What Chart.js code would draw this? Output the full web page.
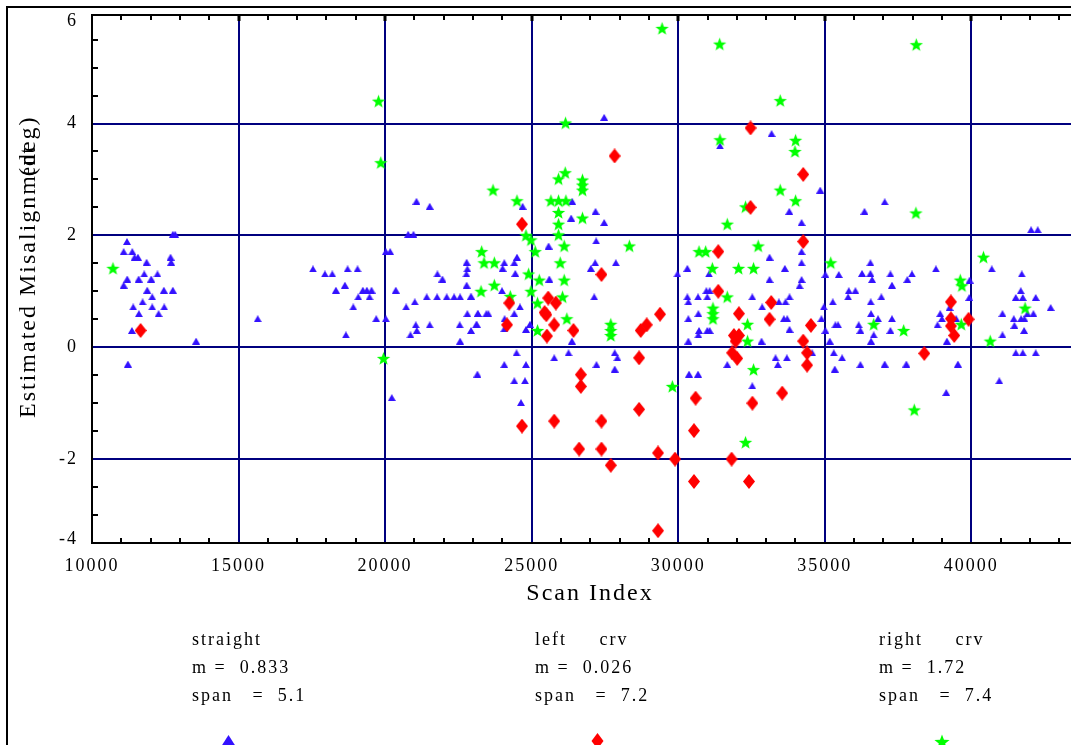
<!DOCTYPE html>
<html>
<head>
<meta charset="utf-8">
<script src="https://cdn.jsdelivr.net/npm/chart.js@4.4.0/dist/chart.umd.min.js"></script>
<style>
  html, body { margin: 0; padding: 0; background: #ffffff; overflow: hidden; }
  #wrap { width: 1071px; height: 745px; position: relative; }
</style>
</head>
<body>
<div id="wrap"><canvas id="chart" width="1071" height="745"></canvas></div>
<script>
// ---- straight track scans (blue triangles) ----
const straightScan = [
  11192, 11079, 11374, 11454, 11567, 11863, 12680, 12700, 12759, 12837,
  11202, 11591, 12020, 11782, 12234, 11079, 11884, 12452, 12759, 12054,
  11726, 11407, 12054, 12463, 11601, 12272, 11362, 13552, 11226, 15654,
  17538, 17947, 18197, 18720, 19060, 20024, 20173, 21070, 21522, 20787,
  20967, 21785, 21955, 22783, 22806, 22773, 18321, 18628, 19241, 19377,
  19537, 19084, 19469, 18913, 19696, 20024, 18662, 20365, 21012, 20717,
  21420, 21774, 22101, 22353, 22557, 22919, 22783, 22806, 23170, 23453,
  21046, 21080, 21522, 20865, 22545, 23114, 22932, 22557, 23148, 20228,
  27473, 33186, 31424, 34844, 36354, 24691, 26382, 27178, 26348, 27473,
  33788, 34208, 27201, 25577, 24498, 24066, 24407, 24009, 24441, 27166,
  27871, 27019, 25600, 23987, 24601, 24407, 23522, 24077, 24805, 27133,
  26372, 24483, 24805, 24066, 24407, 24771, 24635, 25770, 26257, 27211,
  27834, 27925, 27834, 29971, 30312, 31049, 33638, 33115, 34208, 34208,
  33115, 34208, 34140, 30960, 31072, 30312, 30675, 30992, 30346, 32527,
  33797, 33433, 33661, 32863, 30687, 30346, 33604, 33718, 30709, 30992,
  31072, 30687, 30346, 32842, 33797, 35022, 35477, 35818, 36045, 35795,
  34965, 35272, 34885, 35363, 35454, 35022, 35170, 36158, 36215, 36556,
  36613, 36271, 36556, 35306, 35590, 35340, 36215, 33320, 33706, 33399,
  31674, 30368, 30675, 32527, 34571, 22942, 23158, 23124, 24066, 24941,
  37044, 42038, 42264, 37238, 37974, 38791, 37816, 37293, 40698, 41720,
  39940, 36930, 36567, 39929, 41686, 41516, 41754, 42197, 42707, 41061,
  41913, 42117, 41447, 41697, 41810, 41470, 41800, 41061, 41516, 41754,
  42197, 40953, 36577, 36816, 37293, 37238, 36669, 36577, 38847, 38939,
  38995, 39485, 39166, 37044, 37782, 39542, 39143, 39256
];
const straightMis = [
  1.89, 1.71, 1.71, 1.61, 1.61, 1.52, 1.61, 1.52, 2.02, 2.02,
  1.22, 1.22, 1.22, 1.31, 1.31, 1.11, 1.02, 1.02, 1.02, 0.90,
  0.81, 0.72, 0.72, 0.72, 0.60, 0.60, 0.30, 0.11, -0.30, 0.51,
  1.40, 1.31, 1.31, 1.40, 1.40, 1.71, 1.71, 2.61, 2.52, 2.02,
  2.02, 1.31, 1.22, 1.52, 1.40, 1.31, 1.02, 1.11, 1.02, 1.02,
  1.02, 0.90, 0.90, 0.72, 0.51, 0.51, 0.22, 1.02, 0.81, 0.72,
  0.90, 0.90, 0.90, 0.90, 0.90, 0.90, 1.11, 0.60, 0.60, 0.60,
  0.40, 0.30, 0.40, 0.22, 0.40, 0.40, 0.30, 0.11, -0.48, -0.90,
  4.11, 3.82, 3.60, 2.81, 2.43, 2.52, 2.61, 2.43, 2.31, 2.23,
  2.43, 2.23, 1.90, 1.81, 1.61, 1.51, 1.51, 1.41, 1.32, 1.51,
  1.51, 1.41, 1.22, 1.01, 0.72, 0.60, 0.60, 0.51, 0.32, 0.90,
  0.11, -0.10, -0.31, -0.31, -0.60, -0.60, -0.99, -0.19, -0.10, -0.31,
  -0.10, -0.19, -0.39, 1.31, 1.41, 1.31, 1.41, 1.61, 1.71, 1.51,
  1.21, 1.21, 1.10, 1.01, 1.01, 0.90, 0.90, 0.90, 0.81, 0.90,
  0.90, 0.81, 0.81, 0.72, 0.60, 0.51, 0.51, 0.51, 0.30, 0.30,
  0.30, 0.22, 0.11, 0.11, 0.32, 1.30, 1.30, 1.01, 1.01, 0.90,
  0.72, 0.81, 0.51, 0.40, 0.40, 0.30, 0.11, 0.40, 0.30, 1.51,
  1.21, 1.32, 1.32, -0.10, -0.19, -0.39, -0.31, -0.19, -0.19, -0.31,
  -0.31, -0.48, -0.48, -0.69, -0.10, 0.90, 0.60, 0.41, 0.33, 0.41,
  2.60, 2.10, 2.10, 1.31, 1.31, 1.40, 1.21, 1.11, 1.40, 1.31,
  1.20, 0.90, 0.81, 0.89, 1.01, 0.89, 0.89, 0.89, 0.71, 0.60,
  0.60, 0.60, 0.51, 0.51, 0.51, 0.39, 0.30, 0.22, -0.10, -0.10,
  -0.10, -0.60, 0.60, 0.51, 0.51, 0.30, 0.22, 0.11, 0.40, 0.60,
  0.51, 0.51, 0.11, -0.30, -0.30, -0.30, -0.81, 0.71
];

// ---- left curve scans (red diamonds) ----
const leftScan = [
  11658, 32467, 27830, 34265, 32467, 24668, 34265, 31367, 27382, 31367,
  24236, 25565, 25824, 25440, 25500, 24159, 25770, 25520, 26427, 29380,
  28720, 28924, 32070, 33172, 33115, 34527, 31900, 32070, 31957, 34265,
  31840, 32010, 34397, 34397, 28664, 26677, 26677, 30593, 32530, 33547,
  28664, 24668, 25770, 27382, 30538, 26620, 27382, 29312, 29891, 31820,
  27700, 30538, 32413, 29312, 39302, 39302, 39302, 39416, 39906, 38394
];
const leftMis = [
  0.30, 3.92, 3.42, 3.09, 2.50, 2.20, 1.89, 1.71, 1.30, 1.00,
  0.79, 0.88, 0.79, 0.62, 0.58, 0.40, 0.40, 0.20, 0.30, 0.59,
  0.30, 0.40, 0.60, 0.80, 0.50, 0.39, 0.21, 0.21, 0.11, 0.11,
  -0.10, -0.20, -0.10, -0.32, -0.19, -0.49, -0.70, -0.91, -1.00, -0.82,
  -1.11, -1.41, -1.32, -1.32, -1.49, -1.82, -1.82, -1.89, -2.00, -2.00,
  -2.11, -2.40, -2.40, -3.28, 0.81, 0.51, 0.38, 0.21, 0.50, -0.11
];

// ---- right curve scans (green stars) ----
const rightScan = [
  10715, 19776, 19853, 19946, 23294, 23374, 29449, 31413, 33479, 26155,
  31424, 34005, 33982, 23681, 24498, 26144, 25916, 26734, 26734, 26734,
  25657, 25916, 26167, 25916, 26734, 25916, 25916, 24805, 24975, 33479,
  34005, 32296, 31674, 32730, 28334, 26110, 25122, 23726, 25973, 24895,
  25259, 26110, 23726, 23272, 24975, 24270, 26053, 25201, 26201, 25201,
  27700, 27700, 27700, 30709, 30936, 31163, 32058, 32569, 31674, 31186,
  31186, 31186, 32364, 32364, 32569, 29799, 32296, 35202, 36669, 38109,
  38122, 40413, 39622, 39679, 41834, 37691, 39656, 40644, 38053
];
const rightMis = [
  1.41, 4.40, 3.30, -0.20, 1.71, 1.51, 5.70, 5.42, 4.41, 4.01,
  3.71, 3.70, 3.50, 2.81, 2.62, 3.12, 3.01, 2.99, 2.90, 2.81,
  2.62, 2.62, 2.62, 2.41, 2.31, 2.20, 2.01, 2.00, 1.92, 2.81,
  2.62, 2.51, 2.20, 1.81, 1.81, 1.81, 1.71, 1.51, 1.51, 1.31,
  1.20, 1.20, 1.11, 1.00, 1.00, 0.91, 0.90, 0.79, 0.51, 0.30,
  0.41, 0.30, 0.21, 1.71, 1.71, 1.41, 1.41, 1.41, 0.90, 0.70,
  0.60, 0.51, 0.41, 0.11, -0.40, -0.70, -1.70, 1.51, 0.41, 2.40,
  5.41, 1.61, 1.20, 1.10, 0.70, 0.30, 0.41, 0.11, -1.12
];

// ---- axes ----
const xTickValues = [10000, 15000, 20000, 25000, 30000, 35000, 40000];
const yTickValues = [-2, 0, 2, 4];
const yTickLabels = ['-4', '-2', '0', '2', '4', '6'];
const X_MIN = 10000, X_MAX = 43400;
const Y_MIN = -3.5, Y_MAX = 5.94;

// ---- fit statistics printed under the plot ----
const statStraight = ['straight', 'm =  0.833', 'span   =  5.1'];
const statLeft = ['left     crv', 'm =  0.026', 'span   =  7.2'];
const statRight = ['right     crv', 'm =  1.72', 'span   =  7.4'];

const BLUE = '#3311ff', RED = '#ff0000', GREEN = '#00ff00', NAVY = '#00007f';
const SERIF = '"Liberation Serif", "Times New Roman", serif';

function pairs(xs, ys) { return xs.map((x, i) => ({ x: x, y: ys[i] })); }

// marker shapes
function drawTriangle(g, cx, cy, w, h, color) {
  g.fillStyle = color;
  g.beginPath();
  g.moveTo(cx, cy - h / 2);
  g.lineTo(cx + w / 2, cy + h / 2);
  g.lineTo(cx - w / 2, cy + h / 2);
  g.closePath();
  g.fill();
}
function drawDiamond(g, cx, cy, w, h, color) {
  g.fillStyle = color;
  g.beginPath();
  g.moveTo(cx, cy - h / 2);
  g.lineTo(cx + w / 2, cy);
  g.lineTo(cx, cy + h / 2);
  g.lineTo(cx - w / 2, cy);
  g.closePath();
  g.fill();
}
function drawStar(g, cx, cy, R, color) {
  const r = R * 0.42;
  g.fillStyle = color;
  g.beginPath();
  for (let i = 0; i < 10; i++) {
    const a = -Math.PI / 2 + i * Math.PI / 5;
    const rad = i % 2 ? r : R;
    const px = cx + Math.cos(a) * rad, py = cy + Math.sin(a) * rad;
    if (i === 0) g.moveTo(px, py); else g.lineTo(px, py);
  }
  g.closePath();
  g.fill();
}
function markerCanvas(w, h, paint) {
  const c = document.createElement('canvas');
  c.width = w; c.height = h;
  paint(c.getContext('2d'), w, h);
  return c;
}
const triMarker = markerCanvas(8, 7, (g, w, h) => drawTriangle(g, w / 2, h / 2, w, h, BLUE));
const diaMarker = markerCanvas(12, 15, (g, w, h) => drawDiamond(g, w / 2, h / 2, w, h, RED));
const starMarker = markerCanvas(15, 15, (g, w, h) => drawStar(g, w / 2, h / 2 + 0.6, 7, GREEN));

// frame, minor ticks, titles and the statistics block
const decor = {
  id: 'decor',
  beforeDraw(chart) {
    chart.ctx.letterSpacing = '2px';
  },
  afterDatasetsDraw(chart) {
    const ctx = chart.ctx, a = chart.chartArea;
    const xs = chart.scales.x, ys = chart.scales.y;
    ctx.save();
    ctx.fillStyle = '#000';
    // top axis line
    ctx.fillRect(a.left - 1, a.top - 1, chart.width - a.left + 1, 2);
    // minor ticks along x (bottom pointing up, top pointing down)
    for (let v = 11000; v <= 43000; v += 1000) {
      const px = Math.round(xs.getPixelForValue(v));
      const major = v % 5000 === 0;
      if (!major) ctx.fillRect(px - 1, a.bottom - 5, 2, 5);
      ctx.fillRect(px - (major ? 1.5 : 1), a.top, major ? 3 : 2, major ? 6 : 5);
    }
    // minor ticks along y
    for (let v = -3; v <= 5.5; v += 0.5) {
      if (Math.abs(v % 2) < 1e-9) continue;
      const py = Math.round(ys.getPixelForValue(v));
      ctx.fillRect(a.left, py - 1, 6, 2);
    }
    ctx.restore();
  },
  afterDraw(chart) {
    const ctx = chart.ctx;
    ctx.save();
    // outer frame
    ctx.fillStyle = '#000';
    ctx.fillRect(6, 6, 2, chart.height - 6);
    ctx.fillRect(6, 6, chart.width - 6, 2);

    // axis titles
    ctx.fillStyle = '#000';
    ctx.letterSpacing = '2px';
    ctx.font = '24px ' + SERIF;
    ctx.textAlign = 'center';
    ctx.textBaseline = 'alphabetic';
    ctx.fillText('Scan Index', 590, 600);

    ctx.save();
    ctx.translate(35, 418);
    ctx.rotate(-Math.PI / 2);
    ctx.textAlign = 'left';
    const head = 'Estimated Misalignm';
    ctx.fillText(head, 0, 0);
    const w = ctx.measureText(head).width;
    ctx.fillText('ent', w - 2, 0, 30);
    ctx.fillText('(deg)', w - 2, 0);
    ctx.restore();

    // statistics columns
    ctx.font = '18px ' + SERIF;
    ctx.textAlign = 'left';
    const cols = [[192, statStraight], [535, statLeft], [879, statRight]];
    const rows = [645, 673, 701];
    cols.forEach(([x, lines]) => lines.forEach((t, i) => ctx.fillText(t, x, rows[i])));

    // series symbols under each column
    drawTriangle(ctx, 228.5, 740.5, 14, 11, BLUE);
    drawDiamond(ctx, 597.5, 741, 12, 16, RED);
    drawStar(ctx, 942, 742.5, 8, GREEN);
    ctx.restore();
  }
};

Chart.defaults.font.family = SERIF;
Chart.defaults.color = '#000';

new Chart(document.getElementById('chart'), {
  type: 'scatter',
  data: {
    datasets: [
      { label: 'left crv', data: pairs(leftScan, leftMis), pointStyle: diaMarker, pointRadius: 6, pointHoverRadius: 6, order: 1 },
      { label: 'right crv', data: pairs(rightScan, rightMis), pointStyle: starMarker, pointRadius: 6, pointHoverRadius: 6, order: 2 },
      { label: 'straight', data: pairs(straightScan, straightMis), pointStyle: triMarker, pointRadius: 4, pointHoverRadius: 4, order: 3 }
    ]
  },
  options: {
    responsive: false,
    animation: false,
    devicePixelRatio: 1,
    layout: { autoPadding: false, padding: { left: 0, top: 15, right: 0, bottom: 0 } },
    plugins: { legend: { display: false }, tooltip: { enabled: false } },
    scales: {
      x: {
        type: 'linear', min: X_MIN, max: X_MAX,
        afterBuildTicks: s => { s.ticks = xTickValues.map(v => ({ value: v })); },
        afterFit: s => { s.height = 202; s.paddingLeft = 0; s.paddingRight = 0; },
        ticks: {
          autoSkip: false, maxRotation: 0, padding: 12,
          font: { size: 18, family: SERIF }, color: '#000',
          callback: v => String(v)
        },
        grid: {
          drawTicks: false, lineWidth: 2,
          color: c => (c.tick && c.tick.value === X_MIN) ? 'rgba(0,0,0,0)' : NAVY
        },
        border: { color: '#000', width: 2 }
      },
      y: {
        type: 'linear', min: Y_MIN, max: Y_MAX,
        // end labels sit just inside the axis limits
        afterBuildTicks: s => {
          const ends = [Y_MIN + 0.07, Y_MAX - 0.12];
          s.ticks = [ends[0], ...yTickValues, ends[1]].map(v => ({ value: v }));
        },
        afterFit: s => { s.width = 92; s.paddingTop = 0; s.paddingBottom = 0; },
        ticks: {
          padding: 14,
          font: { size: 18, family: SERIF }, color: '#000',
          callback: (v, i) => yTickLabels[i]
        },
        grid: {
          drawTicks: false, lineWidth: 2,
          color: c => (c.tick && !yTickValues.includes(c.tick.value)) ? 'rgba(0,0,0,0)' : NAVY
        },
        border: { color: '#000', width: 2 }
      }
    }
  },
  plugins: [decor]
});
</script>
</body>
</html>
